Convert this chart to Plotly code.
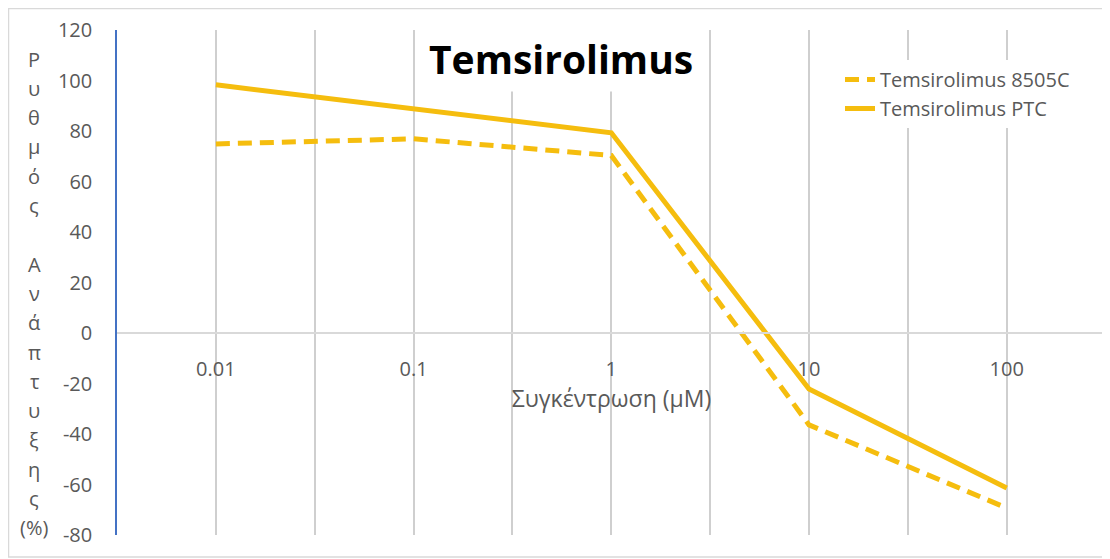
import plotly.graph_objects as go

# values
concentrations = [0.01, 0.1, 1, 10, 100]
tick_labels = ['0.01', '0.1', '1', '10', '100']
growth_8505c = [74.9, 76.9, 70.3, -36.4, -69.3]
growth_ptc = [98.3, 88.7, 79.3, -22.2, -61.4]
series_names = ['Temsirolimus 8505C', 'Temsirolimus PTC']
y_ticks = [-80, -60, -40, -20, 0, 20, 40, 60, 80, 100, 120]

chart_title = 'Temsirolimus'
x_title = 'Συγκέντρωση (μΜ)'
y_title_words = ['Ρυθμός', 'Ανάπτυξης', '(%)']

GOLD = '#F5BD0E'
GREY_TEXT = '#595959'
FONT = 'Open Sans'

# the page body has an 8px margin, so the figure starts at (8, 8) of the window
OFF = 8
W, H = 1110 - OFF, 559 - OFF
# plot area measured on the reference (window pixels): x 117..1106, y 30..535
L, T = 117 - OFF, 30 - OFF
R, B = W - (1106 - OFF), H - (535 - OFF)
pw, ph = W - L - R, H - T - B


def px(x):
    # window pixel x -> paper fraction
    return (x - OFF - L) / pw


def py(y):
    # window pixel y -> paper fraction
    return (H - B - (y - OFF)) / ph


# gridlines every half decade, labels only on the decades
grid_vals, grid_text = [], []
for k in range(-4, 6):
    grid_vals.append(10 ** (k / 2))
    grid_text.append(tick_labels[(k + 4) // 2] if k % 2 == 0 else '')

fig = go.Figure()
fig.add_trace(go.Scatter(
    x=concentrations, y=growth_8505c, name=series_names[0], mode='lines',
    line=dict(color=GOLD, width=5, dash='14px,8px')
))
fig.add_trace(go.Scatter(
    x=concentrations, y=growth_ptc, name=series_names[1], mode='lines',
    line=dict(color=GOLD, width=5)
))

fig.update_layout(
    width=W, height=H,
    margin=dict(l=L, r=R, t=T, b=B, autoexpand=False),
    paper_bgcolor='white', plot_bgcolor='white',
    font=dict(family=FONT, size=20, color=GREY_TEXT),
    showlegend=True,
    legend=dict(x=px(840), y=py(60), xanchor='left', yanchor='top',
                bgcolor='white', font=dict(size=20, color=GREY_TEXT),
                tracegroupgap=0),
    xaxis=dict(
        type='log', range=[-2.5, 2.502],
        tickmode='array', tickvals=grid_vals, ticktext=grid_text,
        showgrid=True, gridcolor='#CFCFCF', gridwidth=1.5,
        anchor='free', position=py(333),
        showline=True, linecolor='#D9D9D9', linewidth=1.5,
        ticks='', ticklabelstandoff=18, automargin=False,
        tickfont=dict(size=20, color=GREY_TEXT),
        title=dict(text=x_title, font=dict(size=23, color=GREY_TEXT), standoff=4),
        zeroline=False,
    ),
    yaxis=dict(
        range=[-80, 120], showgrid=False, zeroline=False,
        tickmode='array', tickvals=y_ticks, ticktext=[str(v) for v in y_ticks],
        showline=True, linecolor='#4472C4', linewidth=1.5,
        ticks='', ticklabelstandoff=19, automargin=False,
        tickfont=dict(size=20, color=GREY_TEXT),
    ),
)

# chart title sits on a white box over the gridlines
fig.add_annotation(
    text=f'<b>{chart_title}</b>', xref='paper', yref='paper',
    x=px(561), y=py(58), xanchor='center', yanchor='middle', showarrow=False,
    font=dict(family=FONT, size=39, color='black'), bgcolor='white', borderpad=6
)

# y axis title: one character per line, Excel style
lines = list(y_title_words[0]) + [''] + list(y_title_words[1]) + [y_title_words[2]]
for i, ch in enumerate(lines):
    if not ch:
        continue
    fig.add_annotation(
        text=ch, xref='paper', yref='paper', x=px(34), y=py(59 + i * 29.3),
        xanchor='center', yanchor='middle', showarrow=False,
        font=dict(family=FONT, size=20, color=GREY_TEXT)
    )

# outer chart border
fig.add_shape(type='rect', xref='paper', yref='paper',
              x0=px(8.5), y0=py(557), x1=px(1114), y1=py(8.5),
              line=dict(color='#D9D9D9', width=1.5), layer='below')

fig.write_html('out.html')
